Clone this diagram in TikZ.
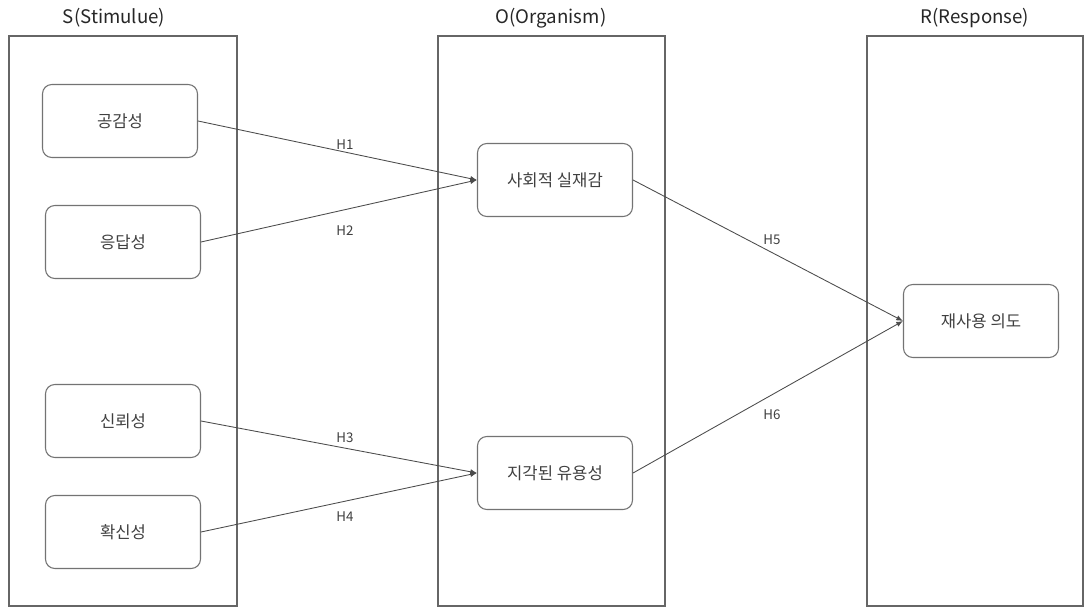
\documentclass[tikz,border=0pt]{standalone}
\usepackage{fontspec}
\setmainfont{Noto Sans CJK KR}
\usetikzlibrary{arrows.meta}
\begin{document}
\begin{tikzpicture}[x=0.75pt,y=-0.75pt,
  panel/.style={draw=black!60,line width=0.8pt},
  item/.style={draw=black!55,line width=0.8pt,rounded corners=7pt,minimum width=155*0.75pt,minimum height=73*0.75pt,font=\fontsize{12.5}{14}\selectfont,text=black!75,inner sep=0pt},
  ttl/.style={font=\fontsize{14}{16}\selectfont,text=black!85},
  hl/.style={font=\fontsize{10}{12}\selectfont,text=black!75},
  conn/.style={draw=black!70,line width=0.65pt,-{Latex[length=5pt,width=4pt]}}]
\useasboundingbox (0,0) rectangle (1091,609);
% panels
\draw[panel] (9,36) rectangle (237,606) coordinate (sp);
\draw[panel] (438,36) rectangle (665,606) coordinate (op);
\draw[panel] (867,36) rectangle (1083,606) coordinate (rp);
\node[ttl] (st) at (114,18) {S(Stimulue)};
\node[ttl] (ot) at (551,18) {O(Organism)};
\node[ttl] (rt) at (975,18) {R(Response)};
% items
\node[item] (a) at (120,121) {공감성};
\node[item] (b) at (123,242) {응답성};
\node[item] (c) at (123,421) {신뢰성};
\node[item] (d) at (123,532) {확신성};
\node[item] (e) at (555,180) {사회적 실재감};
\node[item] (f) at (555,473) {지각된 유용성};
\node[item] (g) at (981,321) {재사용 의도};
% connectors
\draw[conn] (a.east) -- (e.west);
\draw[conn] (b.east) -- (e.west);
\draw[conn] (c.east) -- (f.west);
\draw[conn] (d.east) -- (f.west);
\draw[conn] (e.east) -- (g.west);
\draw[conn] (f.east) -- (g.west);
% labels
\node[hl] (h1) at (345,145) {H1};
\node[hl] (h2) at (345,231) {H2};
\node[hl] (h3) at (345,438) {H3};
\node[hl] (h4) at (345,517) {H4};
\node[hl] (h5) at (772,240) {H5};
\node[hl] (h6) at (772,415) {H6};
\end{tikzpicture}
\end{document}
